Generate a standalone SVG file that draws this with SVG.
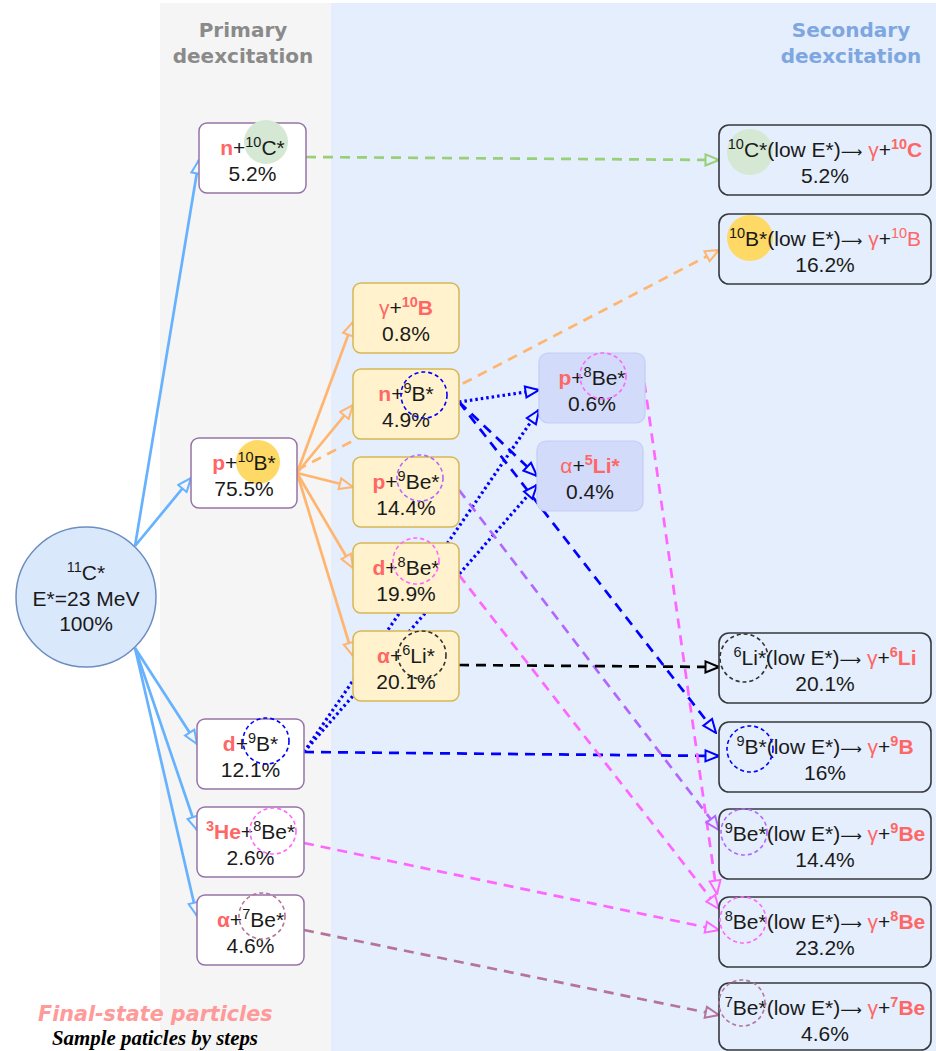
<svg xmlns="http://www.w3.org/2000/svg" width="936" height="1051" viewBox="0 0 936 1051">
  <style>
    .t { font-family: "Liberation Sans", Arial, sans-serif; font-size: 21px; fill: #1a1a1a; text-anchor: middle; }
    .sup { font-size: 14.5px; }
    .arw { font-family: "DejaVu Sans", sans-serif; font-size: 15px; }
    .r { fill: #ff6666; }
    .rb { fill: #ff6666; font-weight: bold; }
    .hdr { font-family: "DejaVu Sans", Verdana, sans-serif; font-weight: bold; font-size: 20px; text-anchor: middle; }
    .prim { fill: #ffffff; stroke: #9673a6; stroke-width: 1.5; }
    .mid { fill: #fff2cc; stroke: #d6b656; stroke-width: 1.5; }
    .lav { fill: #d2dbf9; stroke: #c4cef3; stroke-width: 1.2; }
    .sec { fill: #e4eefc; stroke: #36393d; stroke-width: 1.6; }
    .ring { fill: none; stroke-width: 1.6; stroke-dasharray: 4 3; }
    .ln { fill: none; stroke-width: 2.7; }
    .dash { stroke-dasharray: 10 7; }
    .dot { stroke-dasharray: 2.5 3; stroke-width: 3.2; }
  </style>
  <defs>
    <marker id="aBlue" viewBox="0 0 16 14" refX="15" refY="7" markerWidth="16" markerHeight="14" markerUnits="userSpaceOnUse" orient="auto">
      <path d="M1.5,1.5 L15,7 L1.5,12.5 Z" fill="#f5f5f5" stroke="#66b2ff" stroke-width="2"/>
    </marker>
    <marker id="aOrange" viewBox="0 0 16 14" refX="15" refY="7" markerWidth="16" markerHeight="14" markerUnits="userSpaceOnUse" orient="auto">
      <path d="M1.5,1.5 L15,7 L1.5,12.5 Z" fill="#e4eefc" stroke="#ffb570" stroke-width="2"/>
    </marker>
    <marker id="aGreen" viewBox="0 0 16 14" refX="15" refY="7" markerWidth="16" markerHeight="14" markerUnits="userSpaceOnUse" orient="auto">
      <path d="M1.5,1.5 L15,7 L1.5,12.5 Z" fill="#e4eefc" stroke="#97d077" stroke-width="2"/>
    </marker>
    <marker id="aDeep" viewBox="0 0 16 14" refX="15" refY="7" markerWidth="16" markerHeight="14" markerUnits="userSpaceOnUse" orient="auto">
      <path d="M1.5,1.5 L15,7 L1.5,12.5 Z" fill="#e4eefc" stroke="#0000ff" stroke-width="2"/>
    </marker>
    <marker id="aMagenta" viewBox="0 0 16 14" refX="15" refY="7" markerWidth="16" markerHeight="14" markerUnits="userSpaceOnUse" orient="auto">
      <path d="M1.5,1.5 L15,7 L1.5,12.5 Z" fill="#e4eefc" stroke="#ff66ff" stroke-width="2"/>
    </marker>
    <marker id="aPurple" viewBox="0 0 16 14" refX="15" refY="7" markerWidth="16" markerHeight="14" markerUnits="userSpaceOnUse" orient="auto">
      <path d="M1.5,1.5 L15,7 L1.5,12.5 Z" fill="#e4eefc" stroke="#b266ff" stroke-width="2"/>
    </marker>
    <marker id="aBlack" viewBox="0 0 16 14" refX="15" refY="7" markerWidth="16" markerHeight="14" markerUnits="userSpaceOnUse" orient="auto">
      <path d="M1.5,1.5 L15,7 L1.5,12.5 Z" fill="#e4eefc" stroke="#000000" stroke-width="2"/>
    </marker>
    <marker id="aMauve" viewBox="0 0 16 14" refX="15" refY="7" markerWidth="16" markerHeight="14" markerUnits="userSpaceOnUse" orient="auto">
      <path d="M1.5,1.5 L15,7 L1.5,12.5 Z" fill="#e4eefc" stroke="#b5739d" stroke-width="2"/>
    </marker>
  </defs>

  <!-- background panels -->
  <rect x="0" y="0" width="936" height="1051" fill="#ffffff"/>
  <rect id="panel-primary" x="160" y="3" width="171" height="1048" fill="#f5f5f5"/>
  <rect id="panel-secondary" x="331" y="3" width="605" height="1048" fill="#e4eefc"/>

  <text class="hdr" x="243" y="37" fill="#8a8a8a">Primary</text>
  <text class="hdr" x="243" y="63" fill="#8a8a8a">deexcitation</text>
  <text class="hdr" x="851" y="37" fill="#7ea6e0">Secondary</text>
  <text class="hdr" x="851" y="63" fill="#7ea6e0">deexcitation</text>

  <!-- connectors -->
  <g id="connectors">
    <g marker-end="url(#aBlue)">
      <path class="ln" stroke="#66b2ff" d="M135,546 L199,160"/>
      <path class="ln" stroke="#66b2ff" d="M135,546 L191,478"/>
      <path class="ln" stroke="#66b2ff" d="M135,648 L197,744"/>
      <path class="ln" stroke="#66b2ff" d="M135,648 L197,830"/>
      <path class="ln" stroke="#66b2ff" d="M135,648 L197,916"/>
    </g>
    <path class="ln dash" stroke="#97d077" d="M306,157 L719,160" marker-end="url(#aGreen)"/>
    <path class="ln dash" stroke="#ffb570" d="M297,470 L719,250" marker-end="url(#aOrange)"/>
    <g marker-end="url(#aOrange)">
      <path class="ln" stroke="#ffb570" d="M297,473 L353,322"/>
      <path class="ln" stroke="#ffb570" d="M297,473 L353,405"/>
      <path class="ln" stroke="#ffb570" d="M297,473 L353,487"/>
      <path class="ln" stroke="#ffb570" d="M297,473 L353,568"/>
      <path class="ln" stroke="#ffb570" d="M297,473 L353,656"/>
    </g>
    <g marker-end="url(#aDeep)">
      <path class="ln dot" stroke="#0000ff" d="M459,402 L539,390"/>
      <path class="ln dash" stroke="#0000ff" d="M459,402 L537,476"/>
      <path class="ln dash" stroke="#0000ff" d="M459,402 L716,733"/>
      <path class="ln dot" stroke="#0000ff" d="M304,752 L539,410"/>
      <path class="ln dot" stroke="#0000ff" d="M304,752 L537,485"/>
      <path class="ln dash" stroke="#0000ff" d="M304,752 L719,756"/>
    </g>
    <g marker-end="url(#aMagenta)">
      <path class="ln dash" stroke="#ff66ff" d="M642,366 L717,894"/>
      <path class="ln dash" stroke="#ff66ff" d="M459,575 L719,909"/>
      <path class="ln dash" stroke="#ff66ff" d="M304,843 L719,930"/>
    </g>
    <path class="ln dash" stroke="#b266ff" d="M459,490 L719,830" marker-end="url(#aPurple)"/>
    <path class="ln dash" stroke="#000000" d="M459,665 L719,667" marker-end="url(#aBlack)"/>
    <path class="ln dash" stroke="#b5739d" d="M304,930 L719,1015" marker-end="url(#aMauve)"/>
  </g>

  <!-- initial compound nucleus -->
  <g id="c11">
    <circle cx="86" cy="597" r="70" fill="#dae8fc" stroke="#6c8ebf" stroke-width="1.5"/>
    <text class="t" x="86" y="580"><tspan class="sup" dy="-8">11</tspan><tspan dy="8">C*</tspan></text>
    <text class="t" x="86" y="606">E*=23 MeV</text>
    <text class="t" x="86" y="631">100%</text>
  </g>

  <!-- primary deexcitation channels -->
  <g id="p-n10C">
    <rect class="prim" x="199" y="123" width="107" height="70" rx="8"/>
    <circle cx="266" cy="142" r="22" fill="#d5e8d4"/>
    <text class="t" x="252.5" y="155"><tspan class="rb">n</tspan>+<tspan class="sup" dy="-8">10</tspan><tspan dy="8">C*</tspan></text>
    <text class="t" x="252.5" y="181">5.2%</text>
  </g>
  <g id="p-p10B">
    <rect class="prim" x="191" y="438" width="106" height="70" rx="8"/>
    <circle cx="258" cy="462" r="22" fill="#ffd966"/>
    <text class="t" x="244" y="470"><tspan class="rb">p</tspan>+<tspan class="sup" dy="-8">10</tspan><tspan dy="8">B*</tspan></text>
    <text class="t" x="244" y="496">75.5%</text>
  </g>
  <g id="p-d9B">
    <rect class="prim" x="197" y="719" width="107" height="70" rx="8"/>
    <text class="t" x="250.5" y="751"><tspan class="rb">d</tspan>+<tspan class="sup" dy="-8">9</tspan><tspan dy="8">B*</tspan></text>
    <text class="t" x="250.5" y="777">12.1%</text>
    <circle class="ring" cx="266" cy="741" r="23" stroke="#0000ff"/>
  </g>
  <g id="p-3He8Be">
    <rect class="prim" x="197" y="807" width="107" height="70" rx="8"/>
    <text class="t" x="250.5" y="839"><tspan class="rb sup" dy="-8">3</tspan><tspan class="rb" dy="8">He</tspan>+<tspan class="sup" dy="-8">8</tspan><tspan dy="8">Be*</tspan></text>
    <text class="t" x="250.5" y="865">2.6%</text>
    <circle class="ring" cx="273" cy="831" r="23" stroke="#ff66ff"/>
  </g>
  <g id="p-a7Be">
    <rect class="prim" x="197" y="895" width="107" height="70" rx="8"/>
    <text class="t" x="250.5" y="927"><tspan class="rb">α</tspan>+<tspan class="sup" dy="-8">7</tspan><tspan dy="8">Be*</tspan></text>
    <text class="t" x="250.5" y="953">4.6%</text>
    <circle class="ring" cx="262" cy="916" r="23" stroke="#b5739d"/>
  </g>

  <!-- 10B* deexcitation channels -->
  <g id="m-g10B">
    <rect class="mid" x="353" y="283" width="106" height="70" rx="8"/>
    <text class="t" x="406" y="315"><tspan class="r">γ</tspan>+<tspan class="rb sup" dy="-8">10</tspan><tspan class="rb" dy="8">B</tspan></text>
    <text class="t" x="406" y="341">0.8%</text>
  </g>
  <g id="m-n9B">
    <rect class="mid" x="353" y="369" width="106" height="70" rx="8"/>
    <text class="t" x="406" y="401"><tspan class="rb">n</tspan>+<tspan class="sup" dy="-8">9</tspan><tspan dy="8">B*</tspan></text>
    <text class="t" x="406" y="427">4.9%</text>
    <circle class="ring" cx="424" cy="395" r="23" stroke="#0000ff"/>
  </g>
  <g id="m-p9Be">
    <rect class="mid" x="353" y="457" width="106" height="70" rx="8"/>
    <text class="t" x="406" y="489"><tspan class="rb">p</tspan>+<tspan class="sup" dy="-8">9</tspan><tspan dy="8">Be*</tspan></text>
    <text class="t" x="406" y="515">14.4%</text>
    <circle class="ring" cx="420" cy="478" r="23" stroke="#b266ff"/>
  </g>
  <g id="m-d8Be">
    <rect class="mid" x="353" y="543" width="106" height="70" rx="8"/>
    <text class="t" x="406" y="575"><tspan class="rb">d</tspan>+<tspan class="sup" dy="-8">8</tspan><tspan dy="8">Be*</tspan></text>
    <text class="t" x="406" y="601">19.9%</text>
    <circle class="ring" cx="416" cy="561" r="23" stroke="#ff66ff"/>
  </g>
  <g id="m-a6Li">
    <rect class="mid" x="353" y="631" width="106" height="70" rx="8"/>
    <text class="t" x="406" y="663"><tspan class="rb">α</tspan>+<tspan class="sup" dy="-8">6</tspan><tspan dy="8">Li*</tspan></text>
    <text class="t" x="406" y="689">20.1%</text>
    <circle class="ring" cx="422" cy="655" r="24" stroke="#333333"/>
  </g>

  <!-- 9B* breakup channels -->
  <g id="b-p8Be">
    <rect class="lav" x="539" y="353" width="106" height="70" rx="9"/>
    <text class="t" x="592" y="385"><tspan class="rb">p</tspan>+<tspan class="sup" dy="-8">8</tspan><tspan dy="8">Be*</tspan></text>
    <text class="t" x="592" y="411">0.6%</text>
    <circle class="ring" cx="603" cy="376" r="23" stroke="#ff66ff"/>
  </g>
  <g id="b-a5Li">
    <rect class="lav" x="537" y="441" width="106" height="70" rx="9"/>
    <text class="t" x="590" y="473"><tspan class="r">α</tspan>+<tspan class="rb sup" dy="-8">5</tspan><tspan class="rb" dy="8">Li*</tspan></text>
    <text class="t" x="590" y="499">0.4%</text>
  </g>

  <!-- secondary deexcitation: gamma emission -->
  <g id="s-10C">
    <rect class="sec" x="719" y="125" width="212" height="70" rx="10"/>
    <circle cx="750" cy="152" r="23" fill="#d5e8d4"/>
    <text class="t" x="825" y="157"><tspan class="sup" dy="-8">10</tspan><tspan dy="8">C*(low E*)</tspan><tspan class="arw">⟶</tspan> <tspan class="r">γ</tspan>+<tspan class="rb sup" dy="-8">10</tspan><tspan class="rb" dy="8">C</tspan></text>
    <text class="t" x="825" y="183">5.2%</text>
  </g>
  <g id="s-10B">
    <rect class="sec" x="719" y="214" width="212" height="70" rx="10"/>
    <circle cx="750" cy="238" r="23" fill="#ffd966"/>
    <text class="t" x="825" y="246"><tspan class="sup" dy="-8">10</tspan><tspan dy="8">B*(low E*)</tspan><tspan class="arw">⟶</tspan> <tspan class="r">γ</tspan>+<tspan class="r sup" dy="-8">10</tspan><tspan class="r" dy="8">B</tspan></text>
    <text class="t" x="825" y="272">16.2%</text>
  </g>
  <g id="s-6Li">
    <rect class="sec" x="719" y="633" width="212" height="70" rx="10"/>
    <text class="t" x="825" y="665"><tspan class="sup" dy="-8">6</tspan><tspan dy="8">Li*(low E*)</tspan><tspan class="arw">⟶</tspan> <tspan class="r">γ</tspan>+<tspan class="rb sup" dy="-8">6</tspan><tspan class="rb" dy="8">Li</tspan></text>
    <text class="t" x="825" y="691">20.1%</text>
    <circle class="ring" cx="744" cy="658" r="24" stroke="#333333"/>
  </g>
  <g id="s-9B">
    <rect class="sec" x="719" y="722" width="212" height="70" rx="10"/>
    <text class="t" x="825" y="754"><tspan class="sup" dy="-8">9</tspan><tspan dy="8">B*(low E*)</tspan><tspan class="arw">⟶</tspan> <tspan class="r">γ</tspan>+<tspan class="rb sup" dy="-8">9</tspan><tspan class="rb" dy="8">B</tspan></text>
    <text class="t" x="825" y="780">16%</text>
    <circle class="ring" cx="750" cy="749" r="23" stroke="#0000ff"/>
  </g>
  <g id="s-9Be">
    <rect class="sec" x="719" y="809" width="212" height="70" rx="10"/>
    <text class="t" x="825" y="841"><tspan class="sup" dy="-8">9</tspan><tspan dy="8">Be*(low E*)</tspan><tspan class="arw">⟶</tspan> <tspan class="r">γ</tspan>+<tspan class="rb sup" dy="-8">9</tspan><tspan class="rb" dy="8">Be</tspan></text>
    <text class="t" x="825" y="867">14.4%</text>
    <circle class="ring" cx="744" cy="832" r="23" stroke="#b266ff"/>
  </g>
  <g id="s-8Be">
    <rect class="sec" x="719" y="897" width="212" height="70" rx="10"/>
    <text class="t" x="825" y="929"><tspan class="sup" dy="-8">8</tspan><tspan dy="8">Be*(low E*)</tspan><tspan class="arw">⟶</tspan> <tspan class="r">γ</tspan>+<tspan class="rb sup" dy="-8">8</tspan><tspan class="rb" dy="8">Be</tspan></text>
    <text class="t" x="825" y="955">23.2%</text>
    <circle class="ring" cx="743" cy="920" r="23" stroke="#ff66ff"/>
  </g>
  <g id="s-7Be">
    <rect class="sec" x="719" y="983" width="212" height="67" rx="10"/>
    <text class="t" x="825" y="1015"><tspan class="sup" dy="-8">7</tspan><tspan dy="8">Be*(low E*)</tspan><tspan class="arw">⟶</tspan> <tspan class="r">γ</tspan>+<tspan class="rb sup" dy="-8">7</tspan><tspan class="rb" dy="8">Be</tspan></text>
    <text class="t" x="825" y="1041">4.6%</text>
    <circle class="ring" cx="742" cy="1003" r="23" stroke="#b5739d"/>
  </g>

  <!-- legend -->
  <text x="38" y="1021" font-family="'DejaVu Sans', Verdana, sans-serif" font-size="20.7" font-weight="bold" font-style="italic" fill="#ff9a9a">Final-state particles</text>
  <text x="52" y="1045" font-family="'Liberation Serif', 'Times New Roman', serif" font-size="20.9" font-weight="bold" font-style="italic" fill="#000000">Sample paticles by steps</text>
</svg>
